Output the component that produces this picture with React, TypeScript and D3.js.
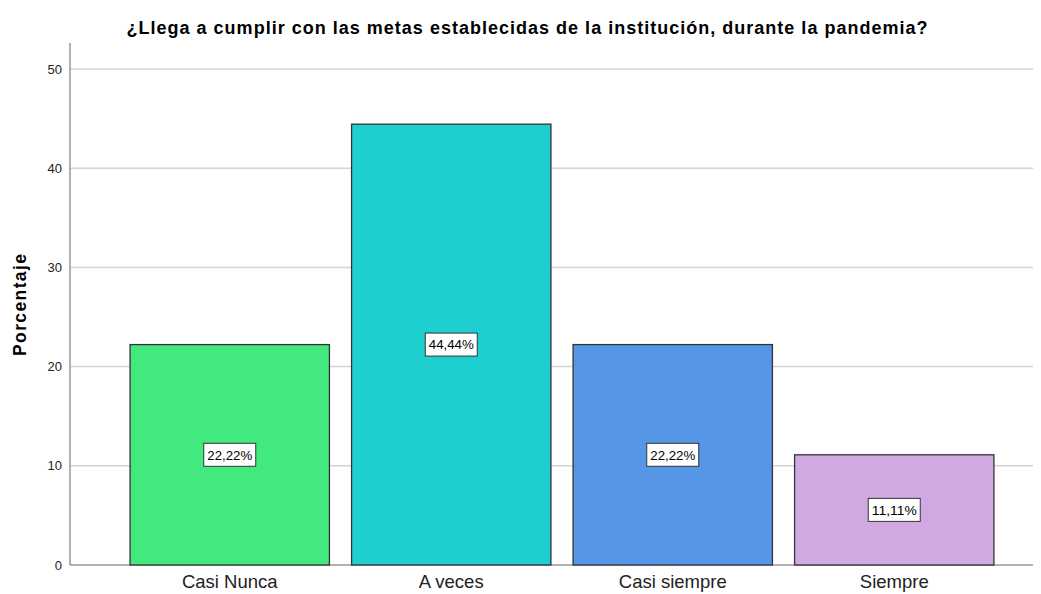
import React from "react";
import * as d3 from "d3";

const categories = ["Casi Nunca", "A veces", "Casi siempre", "Siempre"];
const values = [22.22, 44.44, 22.22, 11.11];
const valueLabels = ["22,22%", "44,44%", "22,22%", "11,11%"];
const colors = ["#42E97E", "#1ECFCF", "#5596E6", "#D0A9E3"];
const yTicks = [0, 10, 20, 30, 40, 50];
const title = "¿Llega a cumplir con las metas establecidas de la institución, durante la pandemia?";

export default function App() {
  const W = 1041, H = 594;
  const axisX = 70, plotRight = 1033, top = 43, bottom = 565;
  const y = d3.scaleLinear().domain([0, 50]).range([bottom, 69]);
  const x = d3.scaleBand<string>().domain(categories).range([119, 1005]).paddingInner(0.1).paddingOuter(0.05);
  const font = "'Liberation Sans', Arial, sans-serif";
  return (
    <svg width={W} height={H} style={{ position: "absolute", left: 0, top: 0, background: "#fff" }} fontFamily={font}>
      <text x={527} y={34} textAnchor="middle" fontSize={18} fontWeight="bold" fill="#000" textLength={801} lengthAdjust="spacing">{title}</text>
      {yTicks.map(t => (
        <g key={t}>
          {t > 0 && <line x1={axisX} x2={plotRight} y1={y(t)} y2={y(t)} stroke="#d4d4d4" strokeWidth={1.5} />}
          <text x={62} y={y(t)} dy="0.35em" textAnchor="end" fontSize={13} fill="#222">{t}</text>
        </g>
      ))}
      <line x1={axisX} x2={axisX} y1={top} y2={bottom} stroke="#999" strokeWidth={1.5} />
      <line x1={axisX} x2={plotRight} y1={bottom} y2={bottom} stroke="#666" strokeWidth={1} />
      <text transform={`translate(26,305) rotate(-90)`} textAnchor="middle" fontSize={17.5} fontWeight="bold" fill="#000" textLength={102} lengthAdjust="spacing">Porcentaje</text>
      {categories.map((c, i) => {
        const bx = x(c)!;
        const bw = x.bandwidth();
        const by = y(values[i]);
        const cy = (by + bottom) / 2;
        const lw = 52;
        return (
          <g key={c}>
            <rect x={bx} y={by} width={bw} height={bottom - by} fill={colors[i]} stroke="#333" strokeWidth={1.3} />
            <rect x={bx + bw / 2 - lw / 2} y={cy - 11.5} width={lw} height={23} fill="#fff" stroke="#333" strokeWidth={1} />
            <text x={bx + bw / 2} y={cy} dy="0.36em" textAnchor="middle" fontSize={13.5} fill="#000" textLength={45} lengthAdjust="spacingAndGlyphs">{valueLabels[i]}</text>
            <text x={bx + bw / 2} y={588} textAnchor="middle" fontSize={18.5} fill="#222">{c}</text>
          </g>
        );
      })}
    </svg>
  );
}
